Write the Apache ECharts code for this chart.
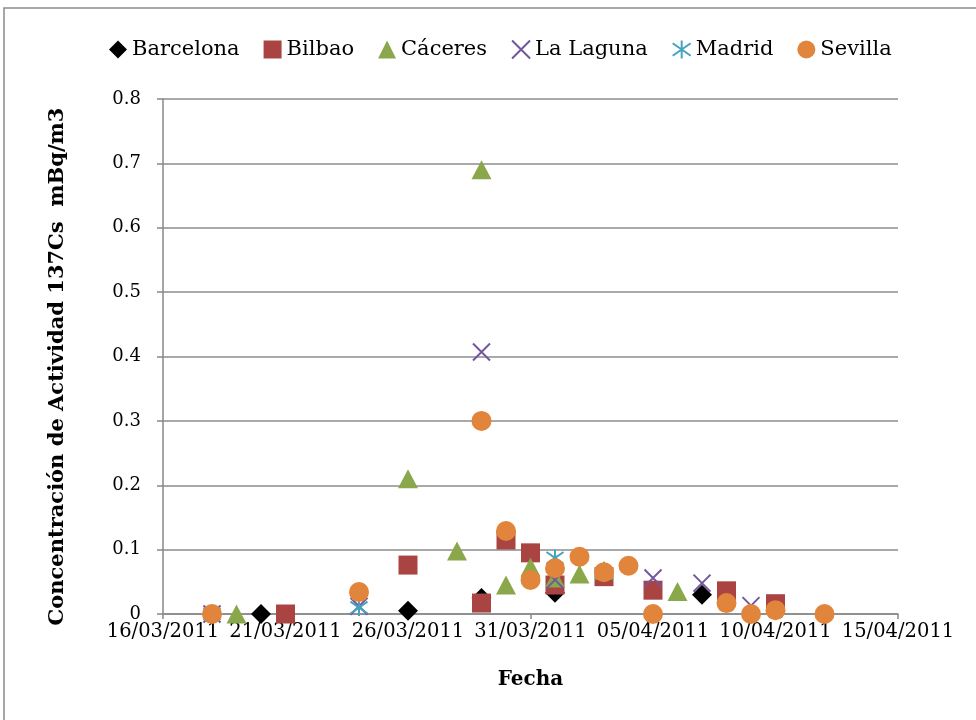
<!DOCTYPE html>
<html>
<head>
<meta charset="utf-8">
<script src="https://cdn.jsdelivr.net/npm/echarts@6/dist/echarts.min.js"></script>
<style>
html,body{margin:0;padding:0;background:#fff;}
#chart{width:976px;height:720px;}
</style>
</head>
<body>
<div id="chart"></div>
<script>
// ---- data (dates dd/mm/yyyy, values mBq/m3) ----
const seriesNames = ['Barcelona', 'Bilbao', 'Cáceres', 'La Laguna', 'Madrid', 'Sevilla'];

const barcelonaDates  = ['20/03/2011','26/03/2011','29/03/2011','01/04/2011','07/04/2011'];
const barcelonaValues = [0, 0.005, 0.025, 0.033, 0.030];

const bilbaoDates  = ['21/03/2011','26/03/2011','29/03/2011','30/03/2011','31/03/2011','01/04/2011','03/04/2011','05/04/2011','08/04/2011','10/04/2011'];
const bilbaoValues = [0, 0.076, 0.017, 0.115, 0.095, 0.045, 0.058, 0.037, 0.036, 0.016];

const caceresDates  = ['19/03/2011','26/03/2011','28/03/2011','29/03/2011','30/03/2011','31/03/2011','01/04/2011','02/04/2011','03/04/2011','06/04/2011'];
const caceresValues = [0, 0.21, 0.098, 0.69, 0.045, 0.073, 0.056, 0.062, 0.068, 0.035];

const lagunaDates  = ['18/03/2011','24/03/2011','29/03/2011','01/04/2011','05/04/2011','07/04/2011','09/04/2011'];
const lagunaValues = [0, 0.012, 0.407, 0.053, 0.056, 0.048, 0.013];

const madridDates  = ['18/03/2011','24/03/2011','01/04/2011'];
const madridValues = [0, 0.010, 0.087];

const sevillaDates  = ['18/03/2011','24/03/2011','29/03/2011','30/03/2011','31/03/2011','01/04/2011','02/04/2011','03/04/2011','04/04/2011','05/04/2011','08/04/2011','09/04/2011','10/04/2011','12/04/2011'];
const sevillaValues = [0, 0.034, 0.300, 0.129, 0.053, 0.071, 0.089, 0.065, 0.075, 0, 0.017, 0, 0.006, 0];

const xMinDate = '16/03/2011';
const xMaxDate = '15/04/2011';
const xStepDays = 5;
const yMin = 0, yMax = 0.8, yStep = 0.1;

// ---- helpers: day-of-year conversion ----
const cumDays = [0,31,59,90,120,151,181,212,243,273,304,334];
function toDay(s){ const p = s.split('/').map(Number); return cumDays[p[1]-1] + p[0]; }
function fromDay(v){
  let m = 0; while (m < 11 && cumDays[m+1] < v) m++;
  const d = v - cumDays[m];
  const pad = n => (n < 10 ? '0' : '') + n;
  return pad(d) + '/' + pad(m+1) + '/2011';
}
function pts(dates, vals){ return dates.map((d,i)=>[toDay(d), vals[i]]); }

const FONT = 'DejaVu Serif';

const chart = echarts.init(document.getElementById('chart'), null, {renderer:'canvas'});
const option = {
  animation: false,
  backgroundColor: '#fff',
  graphic: [{
    type: 'rect', silent: true, z: -1,
    shape: {x: 4, y: 8, width: 1100, height: 900},
    style: {fill: 'none', stroke: '#8a8a8a', lineWidth: 1.5}
  }],
  legend: {
    top: 34, left: 104,
    itemGap: 24, itemWidth: 18, itemHeight: 18,
    textStyle: {fontFamily: FONT, fontSize: 21, color: '#000'},
    data: seriesNames
  },
  grid: {left: 163, right: 78, top: 99, bottom: 106, containLabel: false},
  xAxis: {
    type: 'value',
    min: toDay(xMinDate), max: toDay(xMaxDate), interval: xStepDays,
    name: 'Fecha', nameLocation: 'middle', nameGap: 56,
    nameTextStyle: {fontFamily: FONT, fontSize: 20, fontWeight: 'bold', color: '#000'},
    axisLine: {show: true, lineStyle: {color: '#888', width: 1.5}},
    axisTick: {show: true, length: 5, lineStyle: {color: '#888', width: 1.5}},
    axisLabel: {fontFamily: FONT, fontSize: 19.5, color: '#000', margin: 8, formatter: v => fromDay(v)},
    splitLine: {show: false}
  },
  yAxis: {
    type: 'value', min: yMin, max: yMax, interval: yStep,
    name: 'Concentración de Actividad 137Cs  mBq/m3', nameLocation: 'middle', nameGap: 95,
    nameTextStyle: {fontFamily: FONT, fontSize: 21, fontWeight: 'bold', color: '#000', padding: [0, 20, 0, 0]},
    axisLine: {show: true, lineStyle: {color: '#888', width: 1.5}},
    axisTick: {show: true, length: 6, lineStyle: {color: '#888', width: 1.5}},
    axisLabel: {fontFamily: FONT, fontSize: 18, color: '#000', margin: 22,
      formatter: v => (v === 0 ? '0' : v.toFixed(1))},
    splitLine: {show: true, lineStyle: {color: '#8c8c8c', width: 1.5}}
  },
  series: [
    {name:'Barcelona', type:'scatter', symbol:'diamond', symbolSize:20,
     itemStyle:{color:'#000'}, data: pts(barcelonaDates, barcelonaValues)},
    {name:'Bilbao', type:'scatter', symbol:'rect', symbolSize:19,
     itemStyle:{color:'#A94442'}, data: pts(bilbaoDates, bilbaoValues)},
    {name:'Cáceres', type:'scatter', symbol:'triangle', symbolSize:[20,19],
     itemStyle:{color:'#8AA84B'}, data: pts(caceresDates, caceresValues)},
    {name:'La Laguna', type:'scatter', symbol:'path://M0,0L10,10M10,0L0,10', symbolSize:17,
     itemStyle:{color:'rgba(0,0,0,0)', borderColor:'#7356A0', borderWidth:2}, data: pts(lagunaDates, lagunaValues)},
    {name:'Madrid', type:'scatter', symbol:'path://M5,0L5,10M0,1.5L10,8.5M10,1.5L0,8.5', symbolSize:17,
     itemStyle:{color:'rgba(0,0,0,0)', borderColor:'#44A3BF', borderWidth:2}, data: pts(madridDates, madridValues)},
    {name:'Sevilla', type:'scatter', symbol:'circle', symbolSize:20,
     itemStyle:{color:'#E0853B'}, data: pts(sevillaDates, sevillaValues)}
  ].map(s => { s.itemStyle.opacity = 1; s.emphasis = {disabled:true}; return s; })
};
chart.setOption(option);
</script>
</body>
</html>
